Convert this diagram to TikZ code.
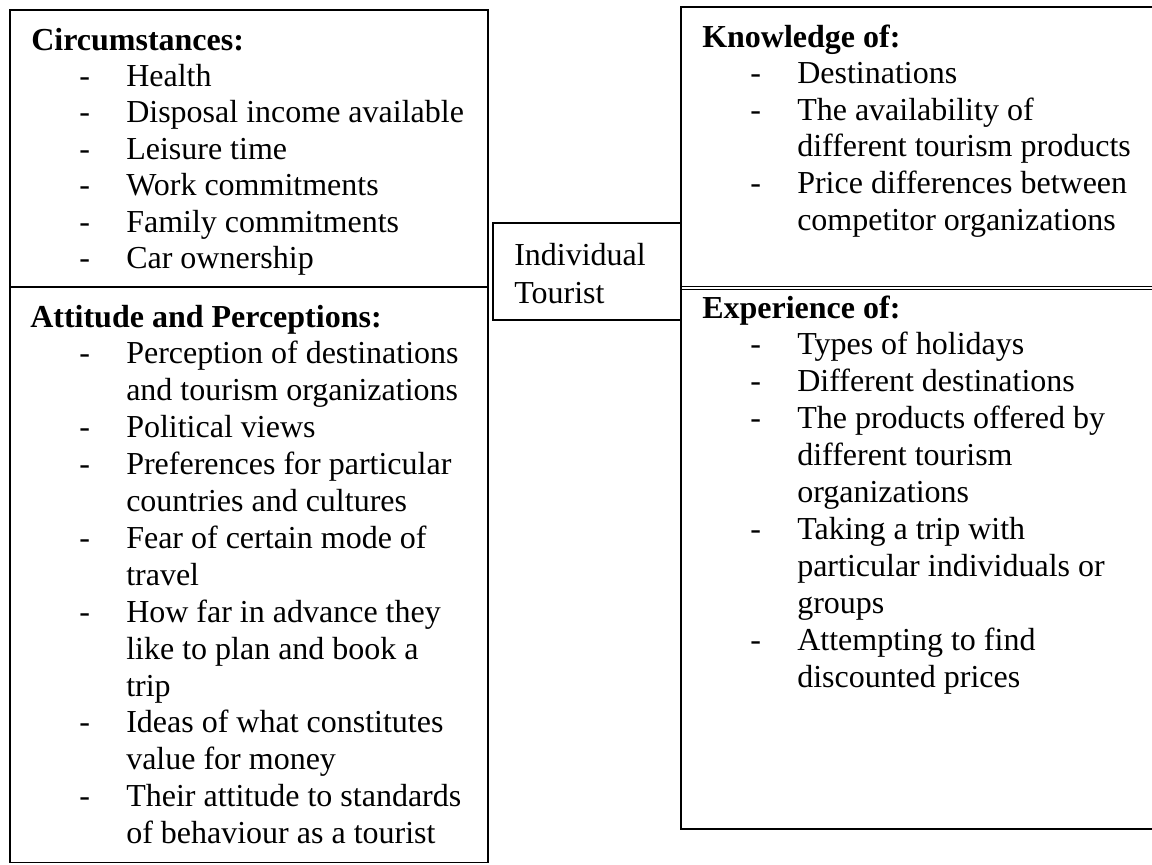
\documentclass[tikz,border=0pt]{standalone}
\usepackage{fontspec}
\setmainfont{Liberation Serif}
\newcommand\boxlines[5]{%
  \foreach \d/\t [count=\i] in {#5}{%
    \node[txt] (#1t\i) at ({#2+95},{#3+#4*\i}) {\t};
    \if\d y\node[txt] (#1d\i) at ({#2+48},{#3+#4*\i}) {-};\fi
  }}
\begin{document}
\begin{tikzpicture}[x=0.75pt,y=-0.75pt,
  txt/.style={anchor=base west,inner sep=0pt,font=\fontsize{24}{28}\selectfont},
  hd/.style={anchor=base west,inner sep=0pt,font=\fontsize{24}{28}\selectfont\bfseries},
  frame/.style={draw,line width=1pt},
  thin/.style={draw,line width=0.7pt}]
\useasboundingbox (0,0) rectangle (1152,864);
\clip (0,0) rectangle (1152,864);
% left boxes
\draw[frame] (10,10) rectangle (488,287);
\draw[frame] (10,287) rectangle (488,862.5);
% middle box
\draw[frame] (493,223) rectangle (681,320);
% right box
\draw[frame] (681,7) rectangle (1160,829);
\draw[thin] (681,286.5) -- (1160,286.5);
\draw[thin] (681,289.7) -- (1160,289.7);

% Circumstances
\node[hd] (circ) at (31,50) {Circumstances:};
\boxlines{c}{31}{49.5}{36.5}{y/Health, y/Disposal income available, y/Leisure time, y/Work commitments, y/Family commitments, y/Car ownership}

% Attitude
\node[hd] (att) at (30,327) {Attitude and Perceptions:};
\boxlines{a}{31}{327}{36.9}{y/Perception of destinations, n/and tourism organizations, y/Political views, y/Preferences for particular, n/countries and cultures, y/Fear of certain mode of, n/travel, y/How far in advance they, n/like to plan and book a, n/trip, y/Ideas of what constitutes, n/value for money, y/Their attitude to standards, n/of behaviour as a tourist}

% Middle
\node[txt] (ind) at (514,265) {Individual};
\node[txt] (tour) at (514,303) {Tourist};

% Knowledge
\node[hd] (know) at (702,47) {Knowledge of:};
\boxlines{k}{702}{47}{36.6}{y/Destinations, y/The availability of, n/different tourism products, y/Price differences between, n/competitor organizations}

% Experience
\node[hd] (exp) at (702,318) {Experience of:};
\boxlines{e}{702}{318}{36.9}{y/Types of holidays, y/Different destinations, y/The products offered by, n/different tourism, n/organizations, y/Taking a trip with, n/particular individuals or, n/groups, y/Attempting to find, n/discounted prices}
\end{tikzpicture}
\end{document}
